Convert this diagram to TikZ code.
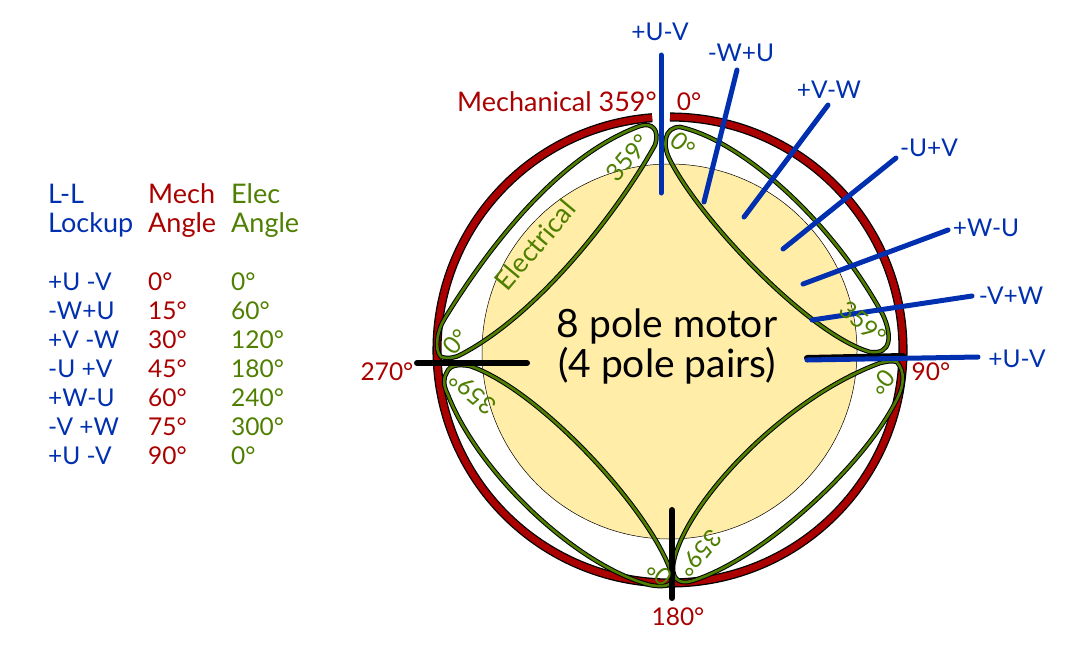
\documentclass[tikz,border=0pt]{standalone}
\usepackage{fontspec}
\setmainfont{Lato}
\usepackage{xcolor}
\usetikzlibrary{positioning}
\definecolor{lockBlue}{HTML}{0030B0}
\definecolor{mechRed}{HTML}{AA0000}
\definecolor{elecGreen}{HTML}{4F7F00}
\definecolor{rotorYellow}{HTML}{FFEDA8}
\tikzset{base-text/.style={inner sep=0, font=\fontsize{27}{29}\selectfont}}
\tikzset{blue-text/.style={base-text, text=lockBlue}}
\tikzset{red-text/.style={base-text, text=mechRed}}
\tikzset{green-text/.style={base-text, text=elecGreen}}
\tikzset{small-text/.style={font=\fontsize{24.5}{29}\selectfont}}
\tikzset{tick-line/.style={line width=6pt, line cap=round}}
\tikzset{lock-line/.style={line width=5pt, line cap=round, draw=lockBlue}}
\tikzset{ring-line/.style={draw=black, line width=1.3pt, double=mechRed, double distance=6.5pt}}
\tikzset{petal-line/.style={draw=black, line width=1pt, double=elecGreen, double distance=2.6pt}}
\begin{document}
\begin{tikzpicture}[x=1pt, y=-1pt]
    \useasboundingbox (0,0) rectangle (1068,649);
    \coordinate (hub) at (670,350);

    \fill[rotorYellow, draw=black, line width=0.5pt] (669.5,351.5) circle[radius=187.5pt];
    \draw[ring-line] (hub) ++(90:233pt) arc[start angle=90, end angle=-265.6, radius=233pt];

    % four electrical petals
    \draw[petal-line] (441,357) .. controls (434,350) and (437,330) .. (445,318)
        .. controls (490,245) and (560,155) .. (640,126)
        .. controls (652,122) and (660,130) .. (655,145)
        .. controls (625,200) and (545,310) .. (462,354)
        .. controls (455,358) and (448,359) .. cycle;
    \draw[petal-line] (680,127) .. controls (740,140) and (830,218) .. (883,315)
        .. controls (892,335) and (892,355) .. (870,352)
        .. controls (810,335) and (700,220) .. (670,160)
        .. controls (662,145) and (664,127) .. cycle;
    \draw[petal-line] (897,362) .. controls (905,372) and (905,385) .. (895,403)
        .. controls (860,470) and (760,560) .. (692,581)
        .. controls (678,585) and (670,578) .. (674,560)
        .. controls (688,500) and (785,398) .. (880,363)
        .. controls (885,362) and (892,360) .. cycle;
    \draw[petal-line] (447,372) .. controls (450,365) and (458,364) .. (470,366)
        .. controls (540,390) and (650,510) .. (671,572)
        .. controls (675,585) and (668,588) .. (650,585)
        .. controls (575,565) and (478,472) .. (448,395)
        .. controls (443,385) and (443,378) .. cycle;

    % mechanical ticks
    \coordinate (tick90a) at (807,358);
    \coordinate (tick90b) at (903,356);
    \coordinate (tick270a) at (417,363);
    \coordinate (tick270b) at (527,363);
    \coordinate (tick180a) at (672,510);
    \coordinate (tick180b) at (672,598);
    \draw[tick-line] (tick90a) -- (tick90b);
    \draw[tick-line] (tick270a) -- (tick270b);
    \draw[tick-line] (tick180a) -- (tick180b);

    % lockup lines
    \foreach \i/\xa/\ya/\xb/\yb in {1/661/55/661/193, 2/737/70/704/202, 3/828/105/744/217,
        4/896/158/783/249, 5/948/230/803/284, 6/972/296/812/320, 7/978/357/807/360} {
        \coordinate (lock\i a) at (\xa,\ya);
        \coordinate (lock\i b) at (\xb,\yb);
        \draw[lock-line] (lock\i a) -- (lock\i b);
    }

    \node[blue-text, small-text] (lab1) at (660,32) {+U-V};
    \node[blue-text, small-text] (lab2) at (741,53) {-W+U};
    \node[blue-text, small-text] (lab3) at (829,90) {+V-W};
    \node[blue-text, small-text] (lab4) at (929,148) {-U+V};
    \node[blue-text, small-text] (lab5) at (986,228) {+W-U};
    \node[blue-text, small-text] (lab6) at (1011,296) {-V+W};
    \node[blue-text, small-text] (lab7) at (1017,359) {+U-V};

    \node[red-text, anchor=east] (mech359) at (657,102) {Mechanical 359°};
    \node[red-text, small-text] (mech0) at (689,102) {0°};
    \node[red-text, small-text] (mech90) at (931,372) {90°};
    \node[red-text, small-text] (mech180) at (678,617) {180°};
    \node[red-text, small-text] (mech270) at (387,372) {270°};

    \node[inner sep=0, font=\fontsize{39}{42}\selectfont, anchor=base] (motor1) at (667,337) {8 pole motor};
    \node[inner sep=0, font=\fontsize{39}{42}\selectfont, anchor=base] (motor2) at (667,377) {(4 pole pairs)};

    \node[green-text, rotate=50] (elec) at (535,245) {Electrical};
    \node[green-text, small-text, rotate=50] (e359a) at (628,158) {359°};
    \node[green-text, small-text, rotate=50] (e0a) at (456,342) {0°};
    \node[green-text, small-text, rotate=-40] (e0b) at (683,145) {0°};
    \node[green-text, small-text, rotate=-40] (e359b) at (863,323) {359°};
    \node[green-text, small-text, rotate=-130] (e0c) at (882,382) {0°};
    \node[green-text, small-text, rotate=-130] (e359c) at (700,553) {359°};
    \node[green-text, small-text, rotate=140] (e0d) at (660,573) {0°};
    \node[green-text, small-text, rotate=140] (e359d) at (473,393) {359°};

    % table
    \node[blue-text, anchor=base west] (headA) at (48,203) {L-L};
    \node[blue-text, anchor=base west] (headB) at (48,232) {Lockup};
    \node[red-text, anchor=base west] (headC) at (148,203) {Mech};
    \node[red-text, anchor=base west] (headD) at (148,232) {Angle};
    \node[green-text, anchor=base west] (headE) at (231,203) {Elec};
    \node[green-text, anchor=base west] (headF) at (231,232) {Angle};
    \foreach \i/\wire/\mech/\elec in {0/+U -V/0/0, 1/-W+U/15/60, 2/+V -W/30/120, 3/-U +V/45/180,
        4/+W-U/60/240, 5/-V +W/75/300, 6/+U -V/90/0} {
        \node[blue-text, small-text, anchor=base west] (wire\i) at (48,290+29*\i) {\wire};
        \node[red-text, small-text, anchor=base west] (mechrow\i) at (148,290+29*\i) {\mech°};
        \node[green-text, small-text, anchor=base west] (elecrow\i) at (231,290+29*\i) {\elec°};
    }
\end{tikzpicture}
\end{document}
